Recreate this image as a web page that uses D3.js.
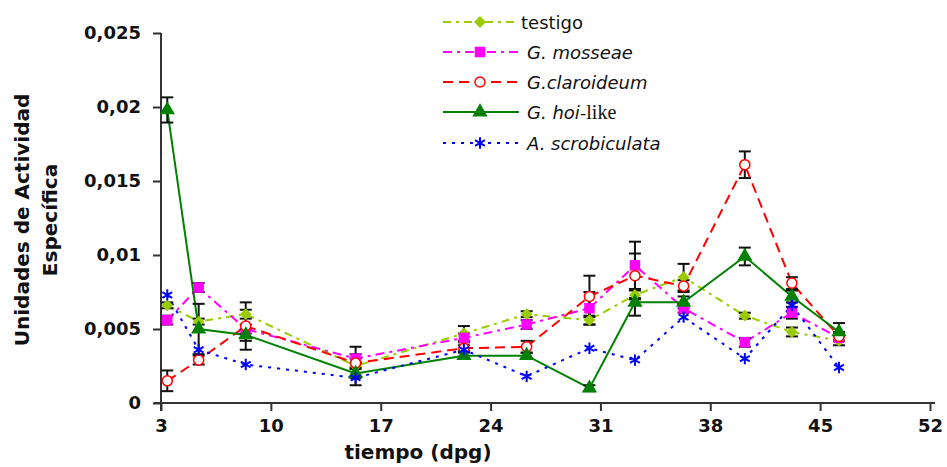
<!DOCTYPE html>
<html>
<head>
<meta charset="utf-8">
<script src="https://cdn.jsdelivr.net/npm/d3@7"></script>
<style>
  body { margin: 0; background: #fff; }
  text { font-family: "DejaVu Sans", sans-serif; }
</style>
</head>
<body>
<div id="chart"></div>
<script>
// days (dpg) where each sample sits
var days = [3.4, 5.4, 8.4, 15.4, 22.3, 26.3, 30.3, 33.2, 36.3, 40.2, 43.2, 46.2];

var testigo    = [0.0066, 0.0055, 0.0060, 0.0025, 0.0047, 0.0060, 0.0056, 0.0073, 0.0085, 0.0059, 0.0048, 0.0042];
var mosseae    = [0.0056, 0.0078, 0.0050, 0.0030, 0.0044, 0.0053, 0.0064, 0.0093, 0.0064, 0.0041, 0.0061, 0.0044];
var claroideum = [0.0015, 0.0029, 0.0052, 0.0027, 0.0037, 0.0038, 0.0072, 0.0086, 0.0079, 0.0161, 0.0081, 0.0045];
var hoi        = [0.0198, 0.0050, 0.0046, 0.0020, 0.0032, 0.0032, 0.0010, 0.0068, 0.0068, 0.0099, 0.0072, 0.0048];
var scrob      = [0.0073, 0.0036, 0.0026, 0.0017, 0.0036, 0.0018, 0.0037, 0.0029, 0.0058, 0.0030, 0.0066, 0.0024];

// error bars (+/-)
var testigoErr    = [0.0002, 0.0002, 0.0003, 0.0013, 0.0005, 0.0002, 0.0003, 0.0003, 0.0009, 0.0002, 0.0003, 0.0003];
var mosseaeErr    = [0.0003, 0.0003, 0.0003, 0.0003, 0.0003, 0.0003, 0.0011, 0.0016, 0.0003, 0.0003, 0.0004, 0.0002];
var claroideumErr = [0.0007, 0.0003, 0.0016, 0.0003, 0.0002, 0.0004, 0.0014, 0.0015, 0.0004, 0.0009, 0.0004, 0.0003];
var hoiErr        = [0.00085, 0.0017, 0.0004, 0.0003, 0.0002, 0.0002, 0.0002, 0.0009, 0.0004, 0.0006, 0.0004, 0.0006];

var xTicks = [3, 10, 17, 24, 31, 38, 45, 52];
var yTicks = [0, 0.005, 0.01, 0.015, 0.02, 0.025];
var yTickLabels = ["0", "0,005", "0,01", "0,015", "0,02", "0,025"];

var series = [
  { name: "testigo", values: testigo, err: testigoErr, color: "#99cc00", dash: "8,5,3,5", symbol: d3.symbolSquare, rot: 45, size: 70, fill: "#99cc00" },
  { name: "G. mosseae", values: mosseae, err: mosseaeErr, color: "#ff00ff", dash: "9,5,3,5", symbol: d3.symbolSquare, rot: 0, size: 110, fill: "#ff00ff" },
  { name: "G.claroideum", values: claroideum, err: claroideumErr, color: "#ff0000", dash: "10,6", symbol: d3.symbolCircle, rot: 0, size: 80, fill: "#fff" },
  { name: "G. hoi-like", values: hoi, err: hoiErr, color: "#008000", dash: null, symbol: d3.symbolTriangle, rot: 0, size: 100, fill: "#008000" },
  { name: "A. scrobiculata", values: scrob, err: null, color: "#0000ff", dash: "3,6", symbol: d3.symbolAsterisk, rot: 0, size: 90, fill: "none" }
];

function strokeW(s) {
  if (s.symbol === d3.symbolCircle) return 1.5;
  if (s.symbol === d3.symbolAsterisk) return 2;
  return 0;
}

var svgWidth = 947, svgHeight = 467;
var svg = d3.select("#chart").append("svg")
  .attr("width", svgWidth)
  .attr("height", svgHeight);

var x = d3.scaleLinear().domain([3, 52]).range([161, 930]);
var y = d3.scaleLinear().domain([0, 0.025]).range([403, 33]);

// axes
var xAxis = d3.axisBottom(x).tickValues(xTicks).tickSize(8).tickPadding(8).tickFormat(d3.format("d"));
var yAxis = d3.axisLeft(y).tickValues(yTicks).tickSize(8).tickPadding(12)
  .tickFormat(function(d, i) { return yTickLabels[i]; });

var gx = svg.append("g").attr("transform", "translate(0,403)").call(xAxis);
gx.select(".domain").attr("d", "M154,0H935");
var gy = svg.append("g").attr("transform", "translate(161,0)").call(yAxis);
gy.select(".domain").attr("d", "M0,33V411");

svg.selectAll(".domain, .tick line").attr("stroke", "#333").attr("stroke-width", 2);
svg.selectAll(".tick text")
  .attr("fill", "#111")
  .style("font-size", "18px")
  .style("font-weight", "bold");

// axis titles
svg.append("text")
  .attr("x", 418).attr("y", 459)
  .attr("text-anchor", "middle")
  .style("font-size", "20px").style("font-weight", "bold")
  .attr("fill", "#111")
  .text("tiempo (dpg)");

var yt = svg.append("text")
  .attr("transform", "translate(29,220) rotate(-90)")
  .attr("text-anchor", "middle")
  .style("font-size", "20px").style("font-weight", "bold")
  .attr("fill", "#111");
yt.append("tspan").attr("x", 0).attr("y", 0).text("Unidades de Actividad");
yt.append("tspan").attr("x", 0).attr("y", 28).text("Específica");

var line = d3.line()
  .x(function(d, i) { return x(days[i]); })
  .y(function(d) { return y(d); });

// lines
series.forEach(function(s) {
  svg.append("path")
    .datum(s.values)
    .attr("d", line)
    .attr("fill", "none")
    .attr("stroke", s.color)
    .attr("stroke-width", 2)
    .attr("stroke-dasharray", s.dash);
});

// error bars
series.forEach(function(s) {
  if (!s.err) return;
  var g = svg.append("g").attr("stroke", "#111").attr("stroke-width", 2);
  s.values.forEach(function(v, i) {
    var e = s.err[i];
    var cx = x(days[i]);
    g.append("line").attr("x1", cx).attr("x2", cx).attr("y1", y(v + e)).attr("y2", y(v - e));
    g.append("line").attr("x1", cx - 6).attr("x2", cx + 6).attr("y1", y(v + e)).attr("y2", y(v + e));
    g.append("line").attr("x1", cx - 6).attr("x2", cx + 6).attr("y1", y(v - e)).attr("y2", y(v - e));
  });
});

// markers
series.forEach(function(s) {
  var sym = d3.symbol().type(s.symbol).size(s.size);
  svg.append("g").selectAll("path")
    .data(s.values)
    .enter()
    .append("path")
    .attr("d", sym)
    .attr("transform", function(d, i) {
      return "translate(" + x(days[i]) + "," + y(d) + ") rotate(" + s.rot + ")";
    })
    .attr("fill", s.fill)
    .attr("stroke", s.color)
    .attr("stroke-width", strokeW(s));
});

// legend
var legendY = [22, 52, 82, 112, 143];
var lg = svg.append("g");
series.forEach(function(s, i) {
  var ly = legendY[i];
  lg.append("line")
    .attr("x1", 443).attr("x2", 519)
    .attr("y1", ly).attr("y2", ly)
    .attr("stroke", s.color).attr("stroke-width", 2)
    .attr("stroke-dasharray", s.dash);
  lg.append("path")
    .attr("d", d3.symbol().type(s.symbol).size(s.size)())
    .attr("transform", "translate(480," + ly + ") rotate(" + s.rot + ")")
    .attr("fill", s.fill)
    .attr("stroke", s.color)
    .attr("stroke-width", strokeW(s));
  var t = lg.append("text")
    .attr("y", ly + 7)
    .style("font-size", "18px")
    .attr("fill", "#111");
  if (i === 0) {
    t.attr("x", 521).text("testigo");
  } else if (i === 3) {
    t.attr("x", 527);
    t.append("tspan").style("font-style", "italic").text("G. hoi-");
    t.append("tspan").style("font-family", "'Liberation Serif', serif").style("font-size", "20px").text("like");
  } else {
    t.attr("x", 527).style("font-style", "italic").text(s.name);
  }
});
</script>
</body>
</html>
